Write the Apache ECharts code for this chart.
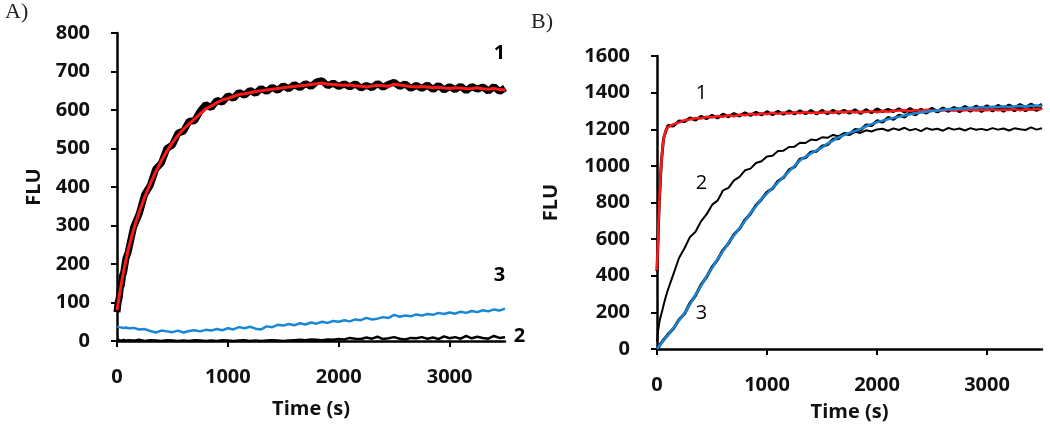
<!DOCTYPE html>
<html>
<head>
<meta charset="utf-8">
<script src="https://cdn.jsdelivr.net/npm/echarts@6/dist/echarts.min.js"></script>
<style>
html,body{margin:0;padding:0;background:#fff;}
#chart{width:1050px;height:429px;}
</style>
</head>
<body>
<div id="chart"></div>
<script>
// ---- data (time in s, FLU) ----
const times = [0,10,20,30,40,50,60,80,100,150,200,250,300,350,400,450,500,550,600,650,700,750,800,850,900,950,1000,1050,1100,1150,1200,1250,1300,1350,1400,1450,1500,1550,1600,1650,1700,1750,1800,1850,1900,1950,2000,2050,2100,2150,2200,2250,2300,2350,2400,2450,2500,2550,2600,2650,2700,2750,2800,2850,2900,2950,3000,3050,3100,3150,3200,3250,3300,3350,3400,3450,3500];

// Panel A
const a1Raw = [75,100,112,138,146,170,178,214,230,296,330,381,404,447,462,500,509,540,545,571,572,597,614,606,625,620,637,630,646,638,651,643,656,648,659,651,663,655,666,658,669,661,673,676,663,670,661,668,660,668,657,664,658,669,659,667,672,661,668,656,664,656,665,653,664,652,661,653,662,650,661,654,660,649,661,648,657];
const a1Fit = [80,98,116,133,150,166,181,209,236,290,335,374,409,440,468,493,515,534,550,564,577,590,603,610,619,626,630,635,640,642,645,648,650,652,654,656,658,660,661,663,664,666,668,670,667,666,665,664,665,663,662,660,662,664,663,662,667,665,663,661,660,661,660,658,659,657,656,658,657,655,656,658,655,654,656,653,652];
const a3 = [38,37,36,38,35,36,34,35,33,34,30,31,26,22,27,25,23,27,22,26,28,25,29,27,31,28,33,30,36,33,37,32,30,38,36,42,40,44,41,46,43,48,45,50,47,52,50,54,51,56,54,60,56,58,62,60,68,63,66,64,69,66,70,68,73,70,74,71,76,73,78,75,80,77,82,79,84];
const a2 = [5,3,2,4,1,2,3,1,2,1,3,0,2,1,0,2,1,0,1,0,2,1,0,1,0,2,1,0,1,2,0,1,0,1,2,1,0,1,2,3,2,4,3,2,4,3,5,4,8,6,5,9,6,11,5,7,10,6,4,8,7,10,6,9,5,12,7,10,6,13,7,11,8,6,13,8,10];

// Panel B
const b1Raw = [425,610,795,915,1025,1090,1150,1190,1220,1218,1245,1242,1262,1250,1270,1258,1276,1262,1282,1268,1286,1272,1290,1276,1293,1278,1296,1280,1298,1282,1300,1284,1301,1285,1302,1283,1303,1285,1304,1287,1303,1288,1306,1286,1307,1290,1311,1296,1308,1297,1312,1293,1313,1296,1309,1298,1314,1295,1312,1298,1316,1296,1314,1299,1317,1297,1315,1300,1318,1298,1317,1301,1319,1302,1316,1303,1318];
const b1Fit = [430,620,790,920,1020,1095,1145,1195,1212,1228,1236,1250,1253,1261,1259,1268,1264,1272,1268,1277,1271,1280,1276,1285,1279,1287,1282,1290,1284,1291,1286,1293,1287,1294,1288,1292,1290,1296,1289,1297,1291,1298,1292,1296,1294,1299,1293,1300,1295,1301,1302,1304,1299,1305,1300,1306,1301,1303,1302,1307,1301,1306,1303,1308,1302,1307,1304,1309,1303,1308,1305,1310,1304,1309,1306,1311,1310];
const b2 = [40,100,140,170,192,215,240,285,325,410,497,550,612,640,697,735,787,810,866,880,921,940,976,985,1016,1025,1051,1055,1081,1083,1103,1105,1126,1125,1144,1140,1156,1153,1169,1162,1178,1170,1186,1180,1194,1188,1199,1203,1192,1205,1196,1208,1194,1202,1190,1206,1197,1203,1192,1207,1198,1204,1193,1206,1197,1202,1195,1206,1198,1204,1193,1205,1200,1196,1210,1198,1205];
const b3Raw = [0,10,14,26,30,42,46,64,80,112,160,192,250,292,350,392,447,487,540,577,625,657,705,739,785,817,856,876,916,936,977,995,1037,1045,1075,1080,1107,1116,1145,1149,1176,1173,1198,1195,1223,1220,1246,1239,1264,1254,1277,1267,1291,1279,1301,1288,1309,1295,1316,1302,1318,1307,1324,1308,1326,1313,1328,1310,1330,1315,1332,1317,1335,1318,1337,1320,1336];
const b3Fit = [0,8,16,24,32,40,48,62,76,115,155,195,245,295,345,395,442,490,535,580,620,660,700,742,780,820,850,880,910,940,970,1000,1030,1050,1068,1085,1100,1122,1138,1155,1168,1180,1190,1202,1215,1228,1238,1247,1255,1262,1268,1275,1282,1287,1292,1296,1300,1303,1306,1310,1309,1315,1313,1318,1316,1321,1318,1323,1320,1325,1322,1324,1327,1323,1328,1330,1327];

// curve labels: [time, FLU, text]
const labelsA = [[3450,748,'1'],[3450,171,'3'],[3631,12,'2']];
const labelsB = [[405,1397,'1'],[405,906,'2'],[405,196,'3']];

// axis ticks
const xTicks = [0,1000,2000,3000];
const yTicksA = [0,100,200,300,400,500,600,700,800];
const yTicksB = [0,200,400,600,800,1000,1200,1400,1600];

// ---- chart ----
const pairs = (ts, vs) => ts.map((t, i) => [t, vs[i]]);
const txt = '#111';
const tickFont = {fontFamily:'Open Sans', fontWeight:'bold', fontSize:20, color:txt};
const axisLineStyle = {color:'#000', width:2.5};
const plain = v => String(v);

function xAxis(gi, nameGap){
  return {
    type:'value', gridIndex:gi, min:0, max:3500, interval:1000,
    name:'Time (s)', nameLocation:'middle', nameGap:nameGap,
    nameTextStyle:{fontFamily:'Open Sans', fontWeight:'bold', fontSize:20, color:txt},
    axisLine:{show:true, lineStyle:axisLineStyle},
    axisTick:{show:true, length:6, lineStyle:{color:'#000', width:2}, customValues:xTicks},
    axisLabel:Object.assign({margin:26, customValues:xTicks, formatter:plain}, tickFont),
    splitLine:{show:false}
  };
}
function yAxis(gi, max, interval, ticks, nameGap){
  return {
    type:'value', gridIndex:gi, min:0, max:max, interval:interval,
    name:'FLU', nameLocation:'middle', nameGap:nameGap,
    nameTextStyle:{fontFamily:'Open Sans', fontWeight:'bold', fontSize:20, color:txt},
    axisLine:{show:true, lineStyle:axisLineStyle},
    axisTick:{show:true, length:6, lineStyle:{color:'#000', width:2}, customValues:ticks},
    axisLabel:Object.assign({margin:27, customValues:ticks, formatter:plain}, tickFont),
    splitLine:{show:false}
  };
}
function line(xi, data, color, width, z){
  return {type:'line', xAxisIndex:xi, yAxisIndex:xi, data:data, showSymbol:false,
    symbol:'none', lineStyle:{color:color, width:width}, z:z, silent:true, clip:true};
}
function labels(xi, list, bold){
  return {type:'scatter', xAxisIndex:xi, yAxisIndex:xi, symbolSize:0, clip:false, silent:true,
    itemStyle:{color:'#000', opacity:1}, z:10,
    data:list.map(l => ({value:[l[0], l[1]], name:l[2]})),
    label:{show:true, position:'inside', formatter:'{b}', fontFamily:'Open Sans',
      fontWeight: bold ? 'bold' : 'normal', fontSize:20, color:'#000', opacity:1,
      textBorderWidth:0}};
}

const chart = echarts.init(document.getElementById('chart'), null, {renderer:'canvas'});
chart.setOption({
  animation:false,
  backgroundColor:'#fff',
  title:[
    {text:'A)', left:0, top:-4, textStyle:{fontFamily:'Liberation Serif', fontWeight:'normal', fontSize:22, color:'#222'}},
    {text:'B)', left:526, top:6, textStyle:{fontFamily:'Liberation Serif', fontWeight:'normal', fontSize:22, color:'#222'}}
  ],
  grid:[
    {left:117, top:33, width:388, height:308},
    {left:657, top:56, width:385, height:293}
  ],
  xAxis:[xAxis(0, 58), xAxis(1, 53)],
  yAxis:[yAxis(0, 800, 100, yTicksA, 73), yAxis(1, 1600, 200, yTicksB, 96)],
  series:[
    line(0, pairs(times, a1Raw), '#000', 7, 2),
    line(0, pairs(times, a1Fit), '#ff1a1a', 3, 3),
    line(0, pairs(times, a2), '#000', 2.5, 2),
    line(0, pairs(times, a3), '#1a86d6', 2.5, 3),
    labels(0, labelsA, true),
    line(1, pairs(times, b2), '#000', 2, 2),
    line(1, pairs(times, b1Raw), '#000', 3, 2),
    line(1, pairs(times, b1Fit), '#ff1a1a', 2.5, 3),
    line(1, pairs(times, b3Raw), '#000', 3, 2),
    line(1, pairs(times, b3Fit), '#1a86d6', 2.5, 3),
    labels(1, labelsB, false)
  ]
});
</script>
</body>
</html>
